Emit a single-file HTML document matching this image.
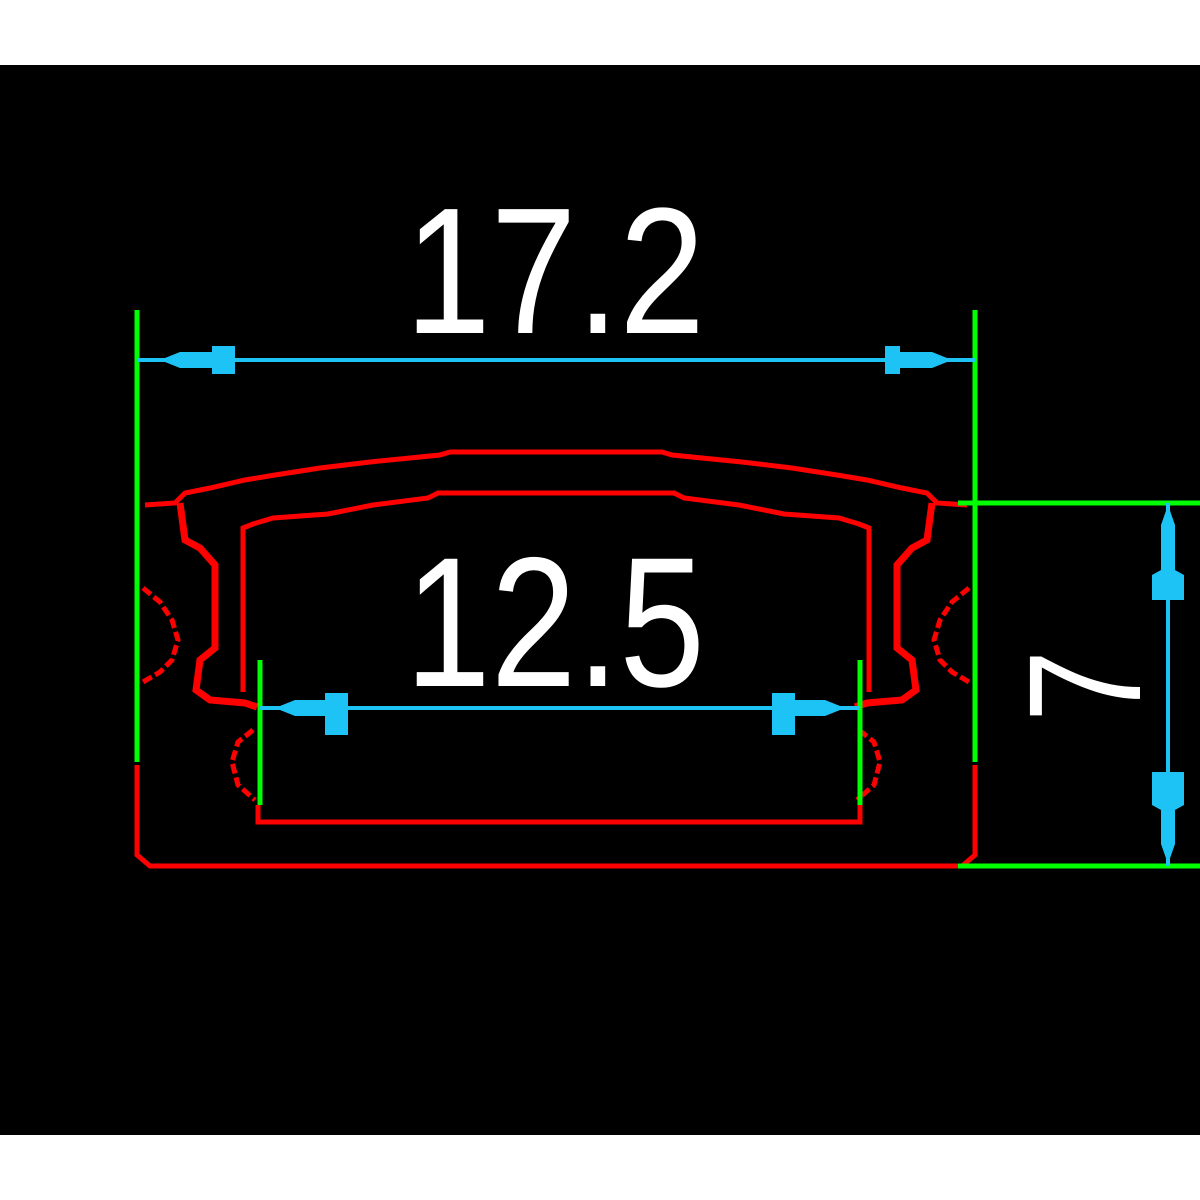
<!DOCTYPE html>
<html><head><style>html,body{margin:0;padding:0;background:#fff;}svg{display:block}</style></head>
<body>
<svg width="1200" height="1200" viewBox="0 0 1200 1200" xmlns="http://www.w3.org/2000/svg">
<rect x="0" y="0" width="1200" height="1200" fill="#fff"/>
<rect x="0" y="65" width="1200" height="1070" fill="#000"/>
<defs>
<g id="half" fill="none" stroke="#f00" stroke-width="5">
  <polyline points="145,505 175,503 185,493 210,488 245,480 275,475 320,468 370,462 440,455 450,452 562,452"/>
  <polyline points="180,503 185,540 200,548 215,565 215,648 200,660 196,690 210,700 245,703 257,707" stroke-width="7"/>
  <polyline points="243,692 243,528 253,524 273,518 328,514 373,505 428,498 438,493 562,493"/>
  <polyline points="143,588 160,602 172,620 178,640 172,660 160,672 143,682" stroke-dasharray="10,4"/>
  <polyline points="253,730 238,742 232,762 238,785 255,800" stroke-dasharray="10,4"/>
  <polyline points="137,765 137,855 150,866 562,866"/>
</g>
</defs>
<use href="#half"/>
<use href="#half" transform="translate(1112,0) scale(-1,1)"/>
<polyline points="258,805 258,822 860,822 860,805" fill="none" stroke="#f00" stroke-width="5"/>
<g stroke="#0f0" stroke-width="5" fill="none">
  <line x1="137" y1="310" x2="137" y2="762"/>
  <line x1="975" y1="310" x2="975" y2="762"/>
  <line x1="958" y1="503" x2="1200" y2="503"/>
  <line x1="958" y1="866" x2="1200" y2="866"/>
  <line x1="260" y1="660" x2="260" y2="805"/>
  <line x1="860" y1="660" x2="860" y2="805"/>
</g>
<g stroke="#1ec3f5" stroke-width="4" fill="#1ec3f5">
  <line x1="137" y1="360" x2="975" y2="360"/>
  <path d="M160,360 L180,352 L212,352 L212,346 L235,346 L235,374 L212,374 L212,368 L180,368 Z" stroke="none"/>
  <path d="M952,360 L932,352 L900,352 L900,346 L885,346 L885,374 L900,374 L900,368 L932,368 Z" stroke="none"/>
  <line x1="260" y1="708" x2="860" y2="708"/>
  <path d="M275,708 L295,700 L325,700 L325,693 L348,693 L348,735 L325,735 L325,716 L295,716 Z" stroke="none"/>
  <path d="M845,708 L825,700 L795,700 L795,693 L772,693 L772,735 L795,735 L795,716 L825,716 Z" stroke="none"/>
  <line x1="1168" y1="503" x2="1168" y2="866"/>
  <path d="M1168,505 L1175,525 L1175,570 L1184,575 L1184,600 L1152,600 L1152,575 L1161,570 L1161,525 Z" stroke="none"/>
  <path d="M1168,864 L1175,844 L1175,810 L1184,805 L1184,772 L1152,772 L1152,805 L1161,810 L1161,844 Z" stroke="none"/>
</g>
<g fill="#fff" font-family="'Liberation Sans', sans-serif">
  <text x="405" y="333" font-size="180" textLength="300" lengthAdjust="spacingAndGlyphs">17.2</text>
  <text x="405" y="686" font-size="185" textLength="300" lengthAdjust="spacingAndGlyphs">12.5</text>
  <text x="0" y="0" font-size="160" transform="translate(1140,722) rotate(-90)" textLength="72" lengthAdjust="spacingAndGlyphs">7</text>
</g>
</svg>
</body></html>
